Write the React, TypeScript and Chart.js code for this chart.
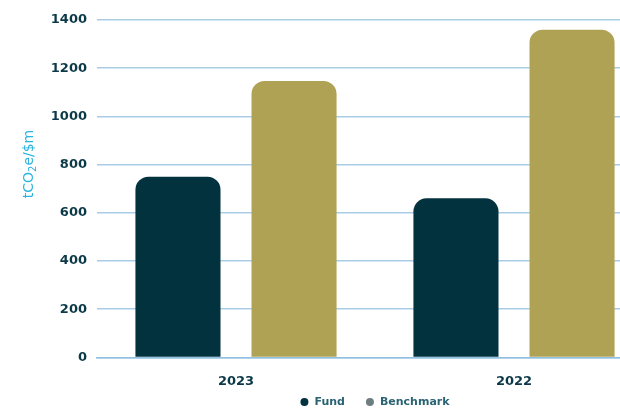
import React, { useEffect, useRef } from "react";
import { Chart, registerables } from "chart.js";

Chart.register(...registerables);

const categories = ["2023", "2022"];
const fundValues = [750, 660];
const benchmarkValues = [1147, 1360];
const seriesNames = ["Fund", "Benchmark"];
const yTicks = [0, 200, 400, 600, 800, 1000, 1200, 1400];

const FUND = "#03323f";
const BENCH = "#b0a254";
const BENCH_LEGEND = "#6d7d82";
const TEXT = "#0b3947";
const LEGEND_TEXT = "#2a6474";

const axisTitlePlugin = {
  id: "axisTitle",
  afterDraw(chart: any) {
    const { ctx, chartArea } = chart;
    ctx.save();
    ctx.translate(29, chartArea.top + 144);
    ctx.rotate(-Math.PI / 2);
    ctx.fillStyle = "#2bb4e2";
    ctx.textBaseline = "middle";
    const f1 = "14px 'DejaVu Sans'";
    const f2 = "10px 'DejaVu Sans'";
    ctx.font = f1;
    const a = "tCO";
    const b = "2";
    const c = "e/$m";
    const wa = ctx.measureText(a).width;
    const wc = ctx.measureText(c).width;
    ctx.font = f2;
    const wb = ctx.measureText(b).width;
    const total = wa + wb + wc;
    let x = -total / 2;
    ctx.font = f1;
    ctx.textAlign = "left";
    ctx.fillText(a, x, 0);
    x += wa;
    ctx.font = f2;
    ctx.fillText(b, x, 4);
    x += wb;
    ctx.font = f1;
    ctx.fillText(c, x, 0);
    ctx.restore();
  },
};

const legendPlugin = {
  id: "customLegend",
  afterDraw(chart: any) {
    const { ctx, chartArea } = chart;
    const colors = [FUND, BENCH_LEGEND];
    ctx.save();
    ctx.font = "bold 11px 'DejaVu Sans'";
    ctx.textBaseline = "middle";
    ctx.textAlign = "left";
    const dot = 8;
    const gapDotText = 6;
    const gapItems = 21;
    const widths = seriesNames.map((n) => ctx.measureText(n).width);
    const total = widths.reduce((s, w) => s + dot + gapDotText + w, 0) + gapItems * (seriesNames.length - 1);
    let x = (chartArea.left + chartArea.right) / 2 - total / 2;
    const y = 402;
    seriesNames.forEach((n, i) => {
      ctx.fillStyle = colors[i];
      ctx.beginPath();
      ctx.arc(x + dot / 2, y, dot / 2, 0, Math.PI * 2);
      ctx.fill();
      x += dot + gapDotText;
      ctx.fillStyle = LEGEND_TEXT;
      ctx.fillText(n, x, y);
      x += widths[i] + gapItems;
    });
    ctx.restore();
  },
};

export default function App() {
  const ref = useRef<HTMLCanvasElement>(null);
  useEffect(() => {
    if (!ref.current) return;
    const chart = new Chart(ref.current, {
      type: "bar",
      data: {
        labels: categories,
        datasets: [
          {
            label: seriesNames[0],
            data: fundValues,
            backgroundColor: FUND,
            borderRadius: { topLeft: 13, topRight: 13, bottomLeft: 0, bottomRight: 0 },
            borderSkipped: false,
            barPercentage: 0.733,
            categoryPercentage: 0.835,
          },
          {
            label: seriesNames[1],
            data: benchmarkValues,
            backgroundColor: BENCH,
            borderRadius: { topLeft: 13, topRight: 13, bottomLeft: 0, bottomRight: 0 },
            borderSkipped: false,
            barPercentage: 0.733,
            categoryPercentage: 0.835,
          },
        ],
      },
      options: {
        animation: false,
        responsive: false,
        maintainAspectRatio: false,
        layout: { padding: { left: 0, right: 2, top: 20, bottom: 3 } },
        scales: {
          x: {
            grid: { display: false, drawTicks: false },
            border: { display: true, color: "#8fc0e2", width: 1.5 },
            ticks: {
              color: TEXT,
              font: { family: "'DejaVu Sans'", weight: "bold", size: 13 },
              padding: 16,
            },
          },
          y: {
            min: 0,
            max: 1400,
            afterBuildTicks(axis: any) {
              axis.ticks = yTicks.map((v) => ({ value: v }));
            },
            grid: { color: "#aacde6", lineWidth: 1.5, drawTicks: false },
            border: { display: false },
            ticks: {
              color: TEXT,
              font: { family: "'DejaVu Sans'", weight: "bold", size: 13 },
              padding: 10,
              callback: (v: any) => String(v),
            },
            afterFit(axis: any) {
              axis.width = 97;
            },
          },
        },
        plugins: {
          tooltip: { enabled: false },
          legend: { display: false },
        },
      },
      plugins: [axisTitlePlugin, legendPlugin],
    } as any);
    return () => chart.destroy();
  }, []);
  return (
    <div style={{ position: "fixed", left: 0, top: 0, width: 620, height: 408, overflow: "hidden", background: "#fff" }}>
      <canvas ref={ref} width={655} height={408} style={{ display: "block", width: 655, height: 408 }} />
    </div>
  );
}
